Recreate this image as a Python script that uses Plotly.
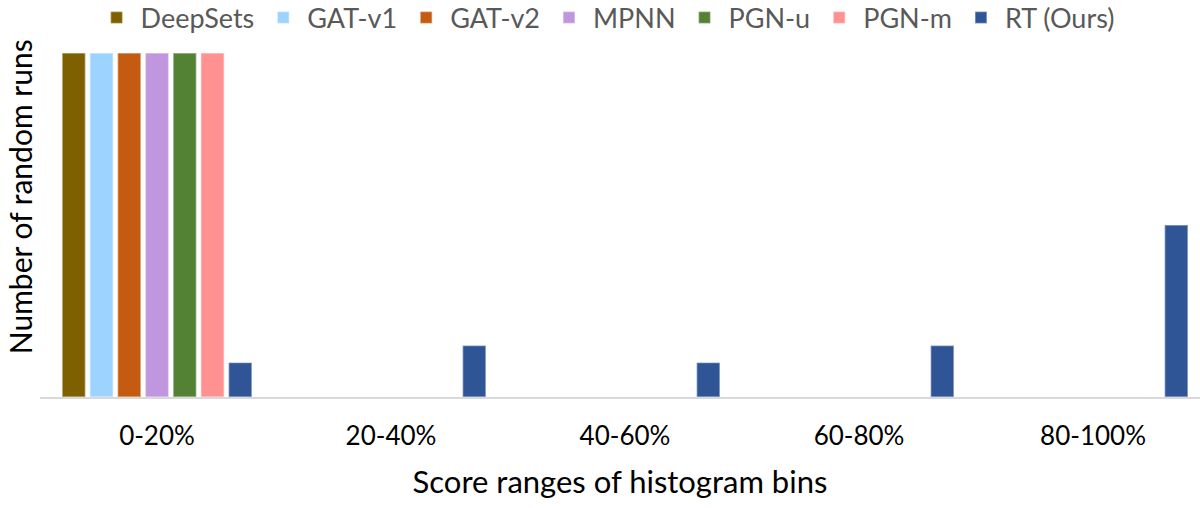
import plotly.graph_objects as go

categories = ["0-20%", "20-40%", "40-60%", "60-80%", "80-100%"]
series_names = ["DeepSets", "GAT-v1", "GAT-v2", "MPNN", "PGN-u", "PGN-m", "RT (Ours)"]
deepsets = [20, 0, 0, 0, 0]
gat_v1 = [20, 0, 0, 0, 0]
gat_v2 = [20, 0, 0, 0, 0]
mpnn = [20, 0, 0, 0, 0]
pgn_u = [20, 0, 0, 0, 0]
pgn_m = [20, 0, 0, 0, 0]
rt_ours = [2, 3, 2, 3, 10]
series_values = [deepsets, gat_v1, gat_v2, mpnn, pgn_u, pgn_m, rt_ours]
colors = ["#7F6000", "#9DD3FF", "#C55A11", "#C096DE", "#548235", "#FF9191", "#2F5597"]

FONT = "Lato, Carlito, Calibri, sans-serif"

fig = go.Figure()
for name, vals, col in zip(series_names, series_values, colors):
    fig.add_trace(go.Bar(
        x=categories, y=vals, name=name,
        marker=dict(color=col, line=dict(color="rgba(255,255,255,0.45)", width=1.5)),
    ))

fig.update_layout(
    width=1200, height=508,
    barmode="group", bargap=0.17, bargroupgap=0.16,
    paper_bgcolor="white", plot_bgcolor="white",
    margin=dict(l=40, r=0, t=53, b=111, autoexpand=False),
    font=dict(family=FONT, color="black"),
    showlegend=True,
    legend=dict(orientation="h", x=0.488, xanchor="center", y=1.102, yanchor="middle",
                font=dict(size=27, color="#595959", family=FONT),
                itemwidth=38, traceorder="normal"),
    xaxis=dict(
        range=[-0.5, 4.457], showgrid=False, showline=True, linecolor="#D9D9D9", linewidth=1.5,
        ticks="", tickfont=dict(size=26, color="black"), ticklabelstandoff=15,
        title=dict(text="Score ranges of histogram bins", font=dict(size=31, color="black"), standoff=21),
    ),
    yaxis=dict(range=[0, 20], showgrid=False, showticklabels=False, zeroline=False, ticks=""),
    annotations=[dict(text="Number of random runs", xref="paper", yref="paper",
                      x=-0.0172, y=0.581, xanchor="center", yanchor="middle",
                      textangle=-90, showarrow=False, font=dict(size=30, color="black", family=FONT))],
)

fig.write_html("out.html", config={"displayModeBar": False},
               post_script="document.body.style.margin='0';document.body.style.overflow='hidden';")
